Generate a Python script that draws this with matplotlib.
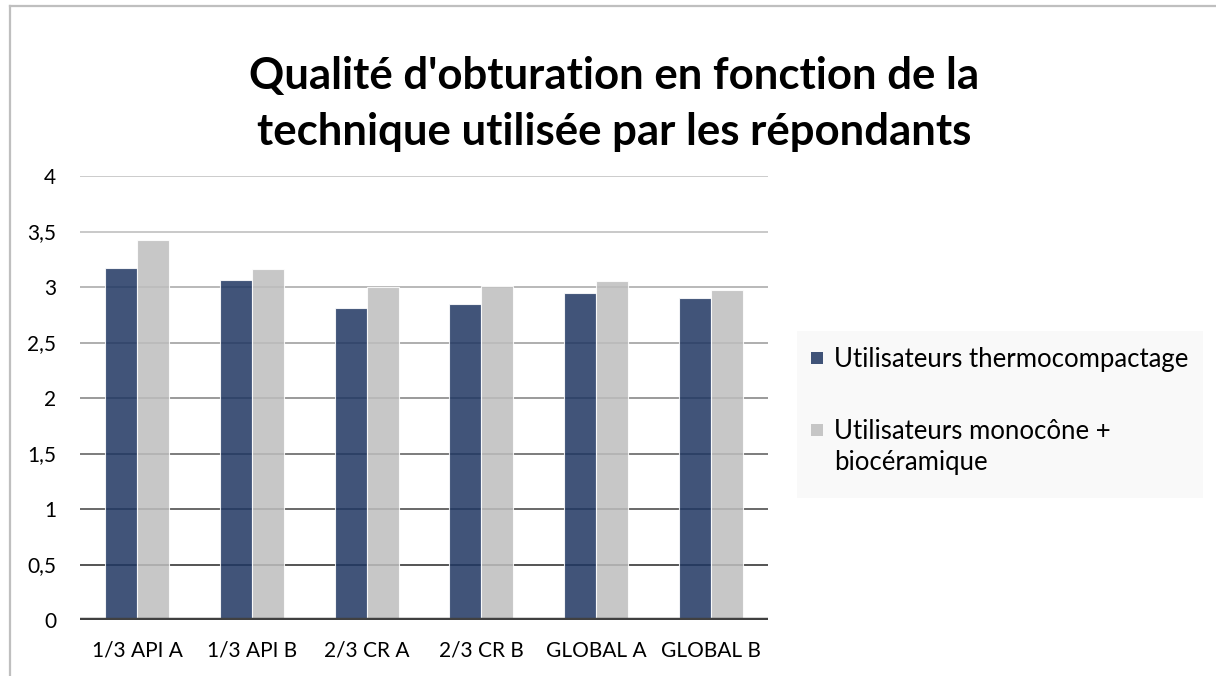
import matplotlib.pyplot as plt
import numpy as np
from matplotlib.patches import Rectangle
from matplotlib.lines import Line2D

plt.rcParams['font.family'] = ['Lato', 'DejaVu Sans']

# data
categories = ['1/3 API A', '1/3 API B', '2/3 CR A', '2/3 CR B', 'GLOBAL A', 'GLOBAL B']
thermo = [3.17, 3.06, 2.81, 2.85, 2.95, 2.90]
mono = [3.42, 3.16, 3.00, 3.01, 3.05, 2.97]
series_names = ['Utilisateurs thermocompactage', 'Utilisateurs monocône +\nbiocéramique']
yticks = [0, 0.5, 1, 1.5, 2, 2.5, 3, 3.5, 4]
ytick_labels = ['0', '0,5', '1', '1,5', '2', '2,5', '3', '3,5', '4']

W, H = 1216, 676
fig = plt.figure(figsize=(W / 100, H / 100), dpi=100)
ax = fig.add_axes([80 / W, 1 - 620 / H, (768 - 80) / W, (620 - 176) / H])

# gridlines get darker towards the bottom
grid_colors = ['#262626', '#404040', '#595959', '#7f7f7f', '#999999', '#a6a6a6', '#bababa', '#bfbfbf']
for yv, c in zip(yticks[1:], grid_colors):
    ax.axhline(yv, color=c, lw=1.1, zorder=1)
ax.axhline(0, color='#404040', lw=3.2, zorder=4)

x = np.arange(len(categories))
w = 0.28
b1 = ax.bar(x - w / 2, thermo, w, color='#1f3662', alpha=0.85, edgecolor='#ffffff', lw=0.8, zorder=3)
b2 = ax.bar(x + w / 2, mono, w, color='#bebebe', alpha=0.85, edgecolor='#ffffff', lw=0.8, zorder=3)

ax.set_xlim(-0.5, len(categories) - 0.5)
ax.set_ylim(0, 4)
ax.set_yticks(yticks)
ax.set_yticklabels(ytick_labels)
ax.set_xticks(x)
ax.set_xticklabels(categories)
ax.tick_params(axis='both', length=0, labelsize=15, colors='#000000')
ax.tick_params(axis='y', pad=17)
ax.tick_params(axis='x', pad=15)
for s in ax.spines.values():
    s.set_visible(False)

# outer chart frame (left and top edges visible)
fig.add_artist(Line2D([10 / W, 10 / W], [0, 1 - 6 / H], color='#bfbfbf', lw=1.6))
fig.add_artist(Line2D([10 / W, 1], [1 - 6 / H, 1 - 6 / H], color='#bfbfbf', lw=1.6))

fig.text(614 / W, 1 - 104 / H, "Qualité d'obturation en fonction de la\ntechnique utilisée par les répondants",
         ha='center', va='center', fontsize=31.5, fontweight='bold', linespacing=1.5)

# legend box
fig.add_artist(Rectangle((797 / W, 1 - 498 / H), (1203 - 797) / W, (498 - 331) / H,
                         transform=fig.transFigure, facecolor='#f9f9f9', edgecolor='none'))
leg_y = [358, 430]
leg_colors = [b1.patches[0].get_facecolor(), b2.patches[0].get_facecolor()]
for yy, col, name in zip(leg_y, leg_colors, series_names):
    fig.add_artist(Rectangle((811 / W, 1 - (yy + 6) / H), 12 / W, 12 / H,
                             transform=fig.transFigure, facecolor=col, edgecolor='none'))
    fig.text(834 / W, 1 - (yy - 11) / H, name, ha='left', va='top', fontsize=18.5, linespacing=1.3)

fig.savefig('out.png', dpi=100)
